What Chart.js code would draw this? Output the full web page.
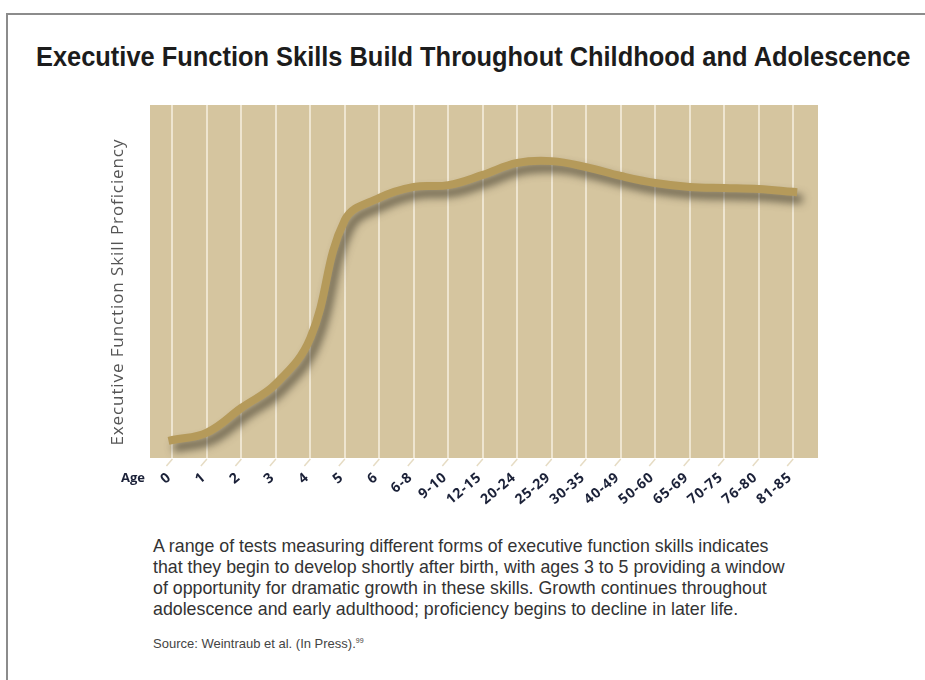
<!DOCTYPE html>
<html>
<head>
<meta charset="utf-8">
<script src="https://cdn.jsdelivr.net/npm/chart.js@4/dist/chart.umd.min.js"></script>
<style>
  html, body { margin: 0; padding: 0; background: #fff; }
  body { width: 925px; height: 680px; position: relative; overflow: hidden; }
  .frame { position: absolute; left: 6px; top: 13px; right: -4px; bottom: -4px; border-top: 2px solid #8c8c8c; border-left: 2px solid #8c8c8c; }
  #chart { position: absolute; left: 0; top: 0; }
  .title { position: absolute; left: 36px; top: 43px; font-family: "Liberation Sans", sans-serif; font-weight: bold; font-size: 28px; line-height: 28px; color: #1c1c1c; white-space: nowrap; transform-origin: 0 0; }
  .age { position: absolute; left: 121px; top: 468px; font-family: "Open Sans", sans-serif; font-weight: bold; font-size: 13px; color: #1b2138; }
  .caption { position: absolute; left: 153px; top: 536px; font-family: "Liberation Sans", sans-serif; font-size: 17.8px; line-height: 21px; color: #333; white-space: nowrap; }
  .source { position: absolute; left: 153px; top: 636px; font-family: "Liberation Sans", sans-serif; font-size: 13px; color: #444; }
</style>
</head>
<body>
<div class="frame"></div>
<div class="title" id="title">Executive Function Skills Build Throughout Childhood and Adolescence</div>
<canvas id="chart" width="925" height="530"></canvas>
<div class="age">Age</div>
<div class="caption">A range of tests measuring different forms of executive function skills indicates<br>that they begin to develop shortly after birth, with ages 3 to 5 providing a window<br>of opportunity for dramatic growth in these skills. Growth continues throughout<br>adolescence and early adulthood; proficiency begins to decline in later life.</div>
<div class="source">Source: Weintraub et al. (In Press).<sup style="font-size:7px">99</sup></div>
<script>
// age groups along the bottom
const ageLabels = ["0", "1", "2", "3", "4", "5", "6", "6-8", "9-10", "12-15", "20-24",
  "25-29", "30-35", "40-49", "50-60", "65-69", "70-75", "76-80", "81-85"];
// proficiency (0-100 scale, no units on the original)
const proficiency = [5.1, 7.2, 14.2, 21.0, 34.0, 67.4, 73.7, 76.8, 77.3, 80.2, 83.6,
  84.1, 82.4, 79.9, 77.9, 76.8, 76.5, 76.2, 75.4];

const points = proficiency.map((v, i) => ({ x: i, y: v }));

// squeeze the headline to the condensed width of the original
const titleEl = document.getElementById('title');
titleEl.style.transform = 'scaleX(' + (874 / titleEl.scrollWidth) + ')';

// tan panel behind the plot (+ a bit of letter spacing for the axis texts)
const panelBg = {
  id: 'panelBg',
  beforeDraw(chart) {
    const { ctx, chartArea: a } = chart;
    ctx.save();
    ctx.fillStyle = '#d5c59f';
    ctx.fillRect(a.left, a.top, a.right - a.left, a.bottom - a.top);
    ctx.restore();
    ctx.letterSpacing = '0.9px';
  }
};

// soft drop shadow under the curve
const curveShadow = {
  id: 'curveShadow',
  beforeDatasetsDraw(chart) {
    const c = chart.ctx;
    c.save();
    c.shadowColor = 'rgba(70,64,48,0.8)';
    c.shadowBlur = 9;
    c.shadowOffsetX = 5;
    c.shadowOffsetY = 7;
  },
  afterDatasetsDraw(chart) {
    chart.ctx.restore();
  }
};

// little slanted tick marks under each grid line
const slantTicks = {
  id: 'slantTicks',
  afterDraw(chart) {
    const { ctx, chartArea: a } = chart;
    const xs = chart.scales.x;
    ctx.save();
    ctx.strokeStyle = '#e6dcc4';
    ctx.lineWidth = 1.5;
    xs.ticks.forEach((t) => {
      const px = xs.getPixelForValue(t.value);
      ctx.beginPath();
      ctx.moveTo(px, a.bottom + 1);
      ctx.lineTo(px - 6, a.bottom + 8);
      ctx.stroke();
    });
    ctx.restore();
  }
};

new Chart(document.getElementById('chart'), {
  type: 'line',
  data: {
    datasets: [{
      data: points,
      borderColor: '#b59a5a',
      borderWidth: 8,
      borderCapStyle: 'square',
      pointRadius: 0,
      tension: 0.4,
      fill: false
    }]
  },
  options: {
    responsive: false,
    animation: false,
    layout: { padding: { left: 100, right: 107, top: 105, bottom: 22 } },
    plugins: { legend: { display: false }, tooltip: { enabled: false } },
    scales: {
      x: {
        type: 'linear',
        min: -0.65,
        max: 18.72,
        afterBuildTicks(s) { s.ticks = ageLabels.map((_, i) => ({ value: i })); },
        afterFit(s) { s.height = 50; },
        grid: { color: '#eee5d0', lineWidth: 2, drawTicks: false },
        border: { display: false },
        ticks: {
          autoSkip: false,
          minRotation: 40,
          maxRotation: 40,
          padding: 11,
          labelOffset: -3,
          color: '#1b2138',
          font: { family: 'Open Sans', weight: 'bold', size: 14 },
          callback: (v) => ageLabels[v]
        }
      },
      y: {
        min: 0,
        max: 100,
        afterFit(s) { s.width = 50; },
        grid: { display: false, drawTicks: false },
        border: { display: false },
        ticks: { display: false },
        title: {
          display: true,
          text: 'Executive Function Skill Proficiency    ',
          color: '#555',
          font: { family: 'Open Sans', size: 17 },
          padding: { top: 8, bottom: 0 }
        }
      }
    }
  },
  plugins: [panelBg, curveShadow, slantTicks]
});
</script>
</body>
</html>
